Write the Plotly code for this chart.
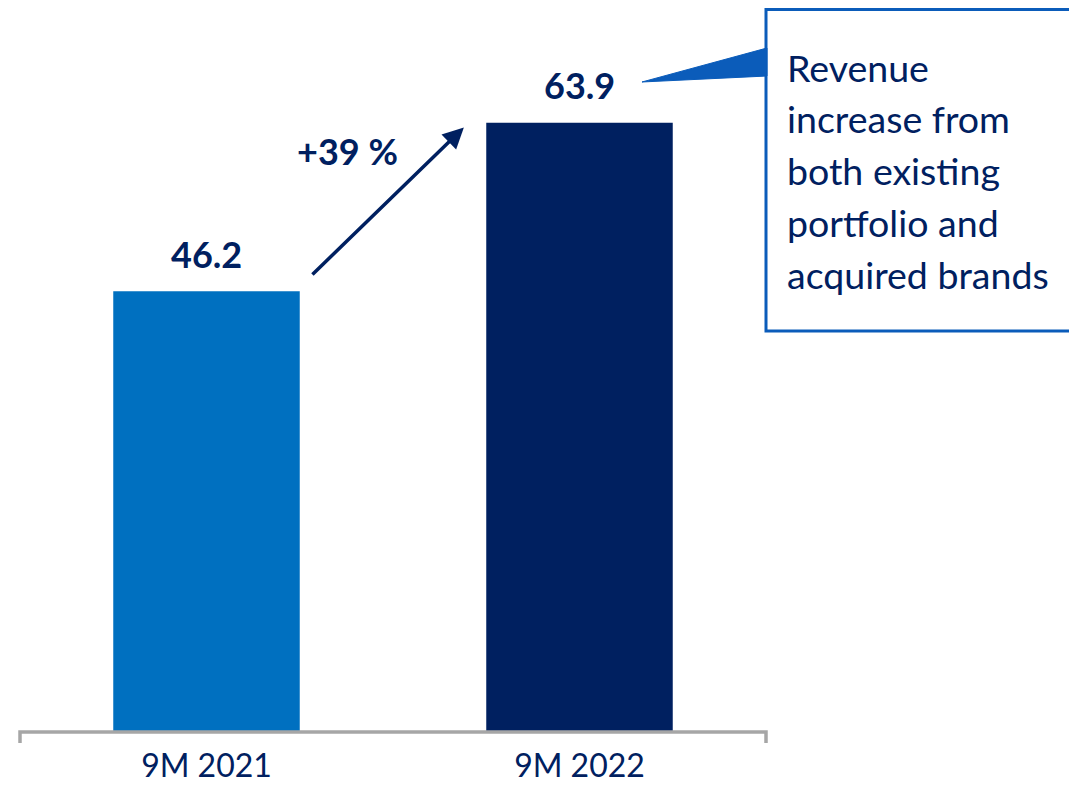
import plotly.graph_objects as go

# data
periods = ["9M 2021", "9M 2022"]
revenue = [46.2, 63.9]
value_labels = ["46.2", "63.9"]
growth_label = "+39 %"
callout_lines = ["Revenue", "increase from", "both existing", "portfolio and", "acquired brands"]

bar_colors = ["#0070C0", "#002060"]
navy = "#002060"
callout_blue = "#0B5CBA"
axis_grey = "#A6A6A6"
FONT = "Lato"

# page body has an 8px margin, so the figure is a bit smaller than the window
OFF = 8
W, H = 1077 - OFF, 786 - OFF
ml, mr, mt, mb = 20 - OFF, 311, 0, 55
plot_w = W - ml - mr
plot_h = H - mt - mb
ymax = plot_h / 9.52


def px_x(px):
    # reference pixel -> paper x
    return (px - OFF - ml) / plot_w


def px_y(py):
    # reference pixel -> paper y
    return (H - mb - (py - OFF)) / plot_h


fig = go.Figure()
fig.add_trace(go.Bar(
    x=periods, y=revenue,
    width=0.5,
    marker=dict(color=bar_colors, line=dict(width=0)),
    hoverinfo="skip",
))

annotations = []
# value labels on top of bars
for p, v, t in zip(periods, revenue, value_labels):
    annotations.append(dict(
        x=p, y=v, text="<b>%s</b>" % t, showarrow=False,
        yanchor="middle", yshift=37.5,
        font=dict(family=FONT, size=36, color=navy),
    ))

# growth arrow from first bar towards second
annotations.append(dict(
    x=0.69, y=revenue[1] - 0.5, ax=0.28, ay=revenue[0] + 1.6,
    xref="x", yref="y", axref="x", ayref="y",
    text="", showarrow=True, arrowhead=2, arrowsize=1.2,
    arrowwidth=3.5, arrowcolor=navy, standoff=0,
))
annotations.append(dict(
    x=0.379, y=(723 - 151 + OFF) / 9.52, xref="x", yref="y",
    text="<b>%s</b>" % growth_label,
    showarrow=False, yanchor="middle",
    font=dict(family=FONT, size=36, color=navy),
))

# callout text, one line per annotation
for i, line in enumerate(callout_lines):
    annotations.append(dict(
        x=px_x(785), y=px_y(67 + i * 51.9), xref="paper", yref="paper",
        text=line, showarrow=False, xanchor="left", yanchor="middle",
        font=dict(family=FONT, size=37.5, color=navy),
    ))

shapes = [
    # category axis line with end ticks
    dict(type="path", xref="paper", yref="paper",
         path="M %f %f L %f %f L %f %f L %f %f" % (
             px_x(20), px_y(743), px_x(20), px_y(732),
             px_x(766), px_y(732), px_x(766), px_y(743)),
         line=dict(color=axis_grey, width=3.5)),
    # callout box
    dict(type="rect", xref="paper", yref="paper",
         x0=px_x(766), x1=px_x(1100), y0=px_y(331), y1=px_y(9.6),
         line=dict(color=callout_blue, width=3), fillcolor="white"),
    # callout pointer
    dict(type="path", xref="paper", yref="paper",
         path="M %f %f L %f %f L %f %f Z" % (
             px_x(767), px_y(48), px_x(642), px_y(82), px_x(767), px_y(76)),
         fillcolor=callout_blue, line=dict(color=callout_blue, width=1)),
]

fig.update_layout(
    width=W, height=H,
    margin=dict(l=ml, r=mr, t=mt, b=mb),
    paper_bgcolor="white", plot_bgcolor="white",
    showlegend=False,
    xaxis=dict(type="category", range=[-0.5, 1.5], showgrid=False, zeroline=False,
               showline=False, ticks="", ticklabelstandoff=13,
               tickfont=dict(family=FONT, size=32, color=navy)),
    yaxis=dict(range=[0, ymax], visible=False),
    annotations=annotations,
    shapes=shapes,
)

fig.write_html("out.html")
